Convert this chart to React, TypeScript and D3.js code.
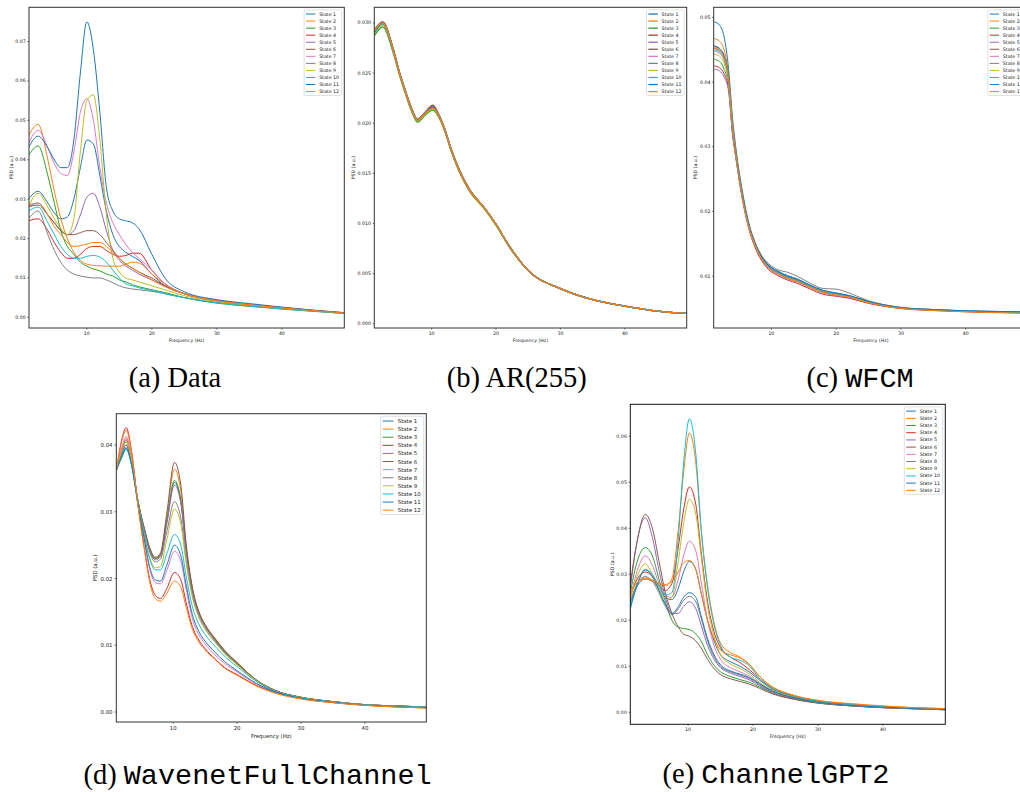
import React from "react";
import * as d3 from "d3";

// ---------- shared labels ----------
const STATES = ["State 1","State 2","State 3","State 4","State 5","State 6","State 7","State 8","State 9","State 10","State 11","State 12"];
const COLORS = ["#1f77b4","#ff7f0e","#2ca02c","#d62728","#9467bd","#8c564b","#e377c2","#7f7f7f","#bcbd22","#17becf","#1f77b4","#ff7f0e"];
const X_TICKS = [10, 20, 30, 40];
const X_DOMAIN = [1.1, 49.6];
const UNIT = 1e-3; // PSD values below are in units of 1e-3 (a.u.)

// ---------- (a) Data ----------
const FREQ_A = [1, 2.5, 4, 5, 6, 7, 8, 9, 10, 11, 12, 13, 14, 15, 16, 17, 18, 20, 22, 25, 30, 35, 40, 45, 49.6];
const PSD_A = [
  [30, 32, 29, 26.5, 25, 25.5, 30, 38, 45, 44, 36, 27, 21, 18, 16.5, 15.5, 14.5, 11, 8, 6, 4.3, 3.3, 2.5, 1.7, 1.1],
  [46, 49, 40, 32, 25, 20, 16.5, 14.5, 13.5, 13.2, 13.1, 13, 13, 13, 13.5, 14, 13.8, 11, 8.5, 6, 4.3, 3.3, 2.5, 1.8, 1.2],
  [41, 43.5, 36, 29, 22, 18, 16, 14, 13, 12.3, 11.8, 11, 10.5, 9.5, 9, 8.3, 7.8, 7, 6.3, 5, 3.6, 2.8, 2.1, 1.5, 1.0],
  [24.5, 25, 22, 19, 16.5, 15, 15, 16, 17.5, 18, 18, 17, 16, 15.5, 15.7, 16.3, 16.3, 12, 8.5, 6, 4.3, 3.2, 2.4, 1.7, 1.1],
  [28, 29, 26, 24, 22, 21, 22, 26, 30.5, 31.5, 28, 22, 17, 14.5, 13, 12, 11, 9.5, 8, 6, 4.2, 3.2, 2.4, 1.7, 1.1],
  [28, 28.5, 26, 24, 22, 21, 21, 21.5, 22, 22, 21, 19, 17, 15, 13.5, 12.5, 11.5, 10, 8, 6, 4.2, 3.2, 2.4, 1.7, 1.1],
  [44, 47.5, 43, 39, 36.5, 36, 42, 52, 55.5, 50, 38, 29, 24, 21, 18.5, 16.5, 15, 12, 8.5, 6, 4.2, 3.3, 2.5, 1.7, 1.1],
  [25, 27, 21, 17, 14, 12, 11, 10.5, 10.2, 10, 10, 9.5, 8.8, 8, 7.5, 7.2, 7, 6.6, 6, 5, 3.8, 2.9, 2.2, 1.6, 1.0],
  [28, 31.5, 28, 25, 22.5, 21, 25, 42, 55, 56.5, 45, 26, 15, 11.5, 10, 9.5, 9, 8, 7, 5.5, 4, 3, 2.3, 1.6, 1.0],
  [27, 28, 24, 21, 18, 16, 15, 15, 15.5, 15.7, 15.3, 14, 12, 10, 8.5, 8, 7.5, 6.8, 6, 5, 3.7, 2.9, 2.2, 1.6, 1.0],
  [43, 46, 43, 40, 38, 38, 45, 62, 75, 68, 52, 33, 27, 25, 24.5, 24, 22.5, 16, 10, 6.5, 4.5, 3.5, 2.6, 1.8, 1.2],
  [28.5, 29, 26, 23, 21, 19, 18, 18.2, 18.6, 19, 19, 18, 16.5, 15, 13.5, 12.5, 11.5, 9.5, 7.8, 6, 4.2, 3.2, 2.4, 1.7, 1.1],
];

// ---------- (b) AR(255) ----------
const FREQ_B = [1.1, 2.4, 4, 5, 6, 7, 7.8, 9, 10.2, 11, 12, 13, 14, 16, 18, 20, 22, 25, 30, 35, 40, 45, 49.6];
const PSD_B = [
  [29.2, 30.0, 27.4, 25.0, 23.0, 21.2, 20.3, 21.0, 21.6, 20.9, 19.4, 17.4, 15.7, 13.2, 11.7, 9.9, 7.8, 5.3, 3.5, 2.4, 1.76, 1.26, 1.03],
  [29.3, 30.0, 27.4, 25.0, 23.0, 21.2, 20.3, 21.0, 21.5, 20.9, 19.4, 17.4, 15.7, 13.2, 11.7, 9.9, 7.8, 5.3, 3.5, 2.4, 1.76, 1.26, 1.03],
  [28.7, 29.6, 27.1, 24.8, 22.8, 21.0, 20.1, 20.8, 21.3, 20.7, 19.3, 17.3, 15.6, 13.1, 11.6, 9.8, 7.7, 5.3, 3.5, 2.4, 1.76, 1.26, 1.03],
  [29.2, 30.1, 27.5, 25.1, 23.1, 21.3, 20.4, 21.1, 21.8, 21.0, 19.5, 17.5, 15.8, 13.3, 11.7, 9.9, 7.8, 5.3, 3.5, 2.4, 1.76, 1.26, 1.03],
  [29.0, 29.9, 27.3, 25.0, 23.0, 21.2, 20.3, 21.0, 21.6, 20.9, 19.4, 17.4, 15.7, 13.2, 11.7, 9.9, 7.8, 5.3, 3.5, 2.4, 1.76, 1.26, 1.03],
  [29.1, 30.0, 27.4, 25.0, 23.0, 21.2, 20.3, 21.0, 21.6, 20.9, 19.4, 17.4, 15.7, 13.2, 11.7, 9.9, 7.8, 5.3, 3.5, 2.4, 1.76, 1.26, 1.03],
  [29.0, 29.9, 27.4, 25.0, 23.0, 21.2, 20.3, 21.0, 21.5, 20.9, 19.4, 17.4, 15.7, 13.2, 11.7, 9.9, 7.8, 5.3, 3.5, 2.4, 1.76, 1.26, 1.03],
  [29.3, 30.1, 27.5, 25.1, 23.1, 21.3, 20.4, 21.1, 21.7, 21.0, 19.5, 17.5, 15.8, 13.2, 11.7, 9.9, 7.8, 5.3, 3.5, 2.4, 1.76, 1.26, 1.03],
  [28.9, 29.8, 27.3, 24.9, 22.9, 21.1, 20.2, 20.9, 21.4, 20.8, 19.3, 17.3, 15.6, 13.1, 11.6, 9.8, 7.8, 5.3, 3.5, 2.4, 1.76, 1.26, 1.03],
  [29.0, 29.9, 27.3, 25.0, 23.0, 21.2, 20.3, 21.0, 21.5, 20.9, 19.4, 17.4, 15.7, 13.2, 11.7, 9.9, 7.8, 5.3, 3.5, 2.4, 1.76, 1.26, 1.03],
  [29.1, 30.0, 27.4, 25.0, 23.0, 21.2, 20.3, 21.0, 21.6, 20.9, 19.4, 17.4, 15.7, 13.2, 11.7, 9.9, 7.8, 5.3, 3.5, 2.4, 1.76, 1.26, 1.03],
  [29.2, 30.0, 27.4, 25.0, 23.0, 21.2, 20.3, 21.0, 21.5, 20.9, 19.4, 17.4, 15.7, 13.2, 11.7, 9.9, 7.8, 5.3, 3.5, 2.4, 1.76, 1.26, 1.03],
];

// ---------- (c) WFCM ----------
const FREQ_C = [1.2, 2, 2.7, 3.4, 4, 4.5, 5.5, 6.5, 7.5, 8.5, 9.6, 11, 12.5, 14, 16, 18, 20, 22, 25, 30, 35, 40, 45, 49.6];
const PSD_C = [
  [49.3, 48.8, 47.0, 42.0, 34.5, 30.0, 23.3, 18.3, 15.2, 13.1, 11.7, 10.8, 10.1, 9.6, 8.6, 7.8, 7.4, 7.0, 6.1, 5.15, 4.85, 4.65, 4.55, 4.45],
  [46.7, 46.3, 45.0, 41.0, 33.5, 29.3, 22.6, 17.9, 14.9, 12.9, 11.5, 10.5, 9.8, 9.3, 8.4, 7.6, 7.2, 6.9, 6.0, 5.1, 4.8, 4.55, 4.4, 4.3],
  [43.5, 43.2, 42.0, 39.5, 32.5, 28.8, 22.3, 17.7, 14.7, 12.7, 11.3, 10.4, 9.7, 9.2, 8.3, 7.5, 7.1, 6.8, 5.9, 5.05, 4.75, 4.55, 4.45, 4.4],
  [42.5, 42.2, 41.3, 39.0, 32.0, 28.4, 22.0, 17.4, 14.4, 12.4, 11.0, 10.1, 9.4, 8.9, 8.0, 7.2, 6.9, 6.6, 5.8, 5.0, 4.7, 4.5, 4.4, 4.35],
  [42.0, 41.7, 40.8, 38.5, 32.0, 28.5, 22.2, 17.6, 14.6, 12.6, 11.2, 10.3, 9.6, 9.1, 8.2, 7.4, 7.0, 6.7, 5.9, 5.05, 4.75, 4.55, 4.45, 4.4],
  [45.5, 45.1, 44.0, 40.5, 33.0, 29.0, 22.5, 17.8, 14.8, 12.8, 11.4, 10.5, 9.8, 9.3, 8.4, 7.6, 7.2, 6.9, 6.0, 5.1, 4.8, 4.6, 4.5, 4.4],
  [44.8, 44.4, 43.4, 40.0, 33.0, 28.9, 22.4, 17.7, 14.7, 12.7, 11.3, 10.4, 9.7, 9.2, 8.3, 7.5, 7.1, 6.8, 5.95, 5.1, 4.8, 4.6, 4.5, 4.4],
  [45.2, 44.8, 43.7, 40.2, 33.0, 29.0, 22.6, 18.0, 15.1, 13.2, 11.9, 11.0, 10.6, 10.0, 8.9, 8.1, 8.0, 7.4, 6.2, 5.2, 4.85, 4.6, 4.5, 4.4],
  [44.3, 44.0, 42.9, 39.8, 32.8, 28.9, 22.4, 17.7, 14.7, 12.7, 11.3, 10.4, 9.7, 9.2, 8.3, 7.5, 7.1, 6.8, 5.95, 5.1, 4.8, 4.6, 4.5, 4.4],
  [45.0, 44.6, 43.6, 40.3, 33.2, 29.1, 22.6, 17.9, 14.9, 12.9, 11.5, 10.6, 9.9, 9.4, 8.5, 7.7, 7.3, 7.0, 6.05, 5.1, 4.8, 4.6, 4.5, 4.4],
  [45.6, 45.2, 44.1, 40.8, 33.5, 29.3, 22.8, 18.1, 15.0, 13.0, 11.6, 10.7, 10.0, 9.5, 8.6, 7.8, 7.4, 7.0, 6.1, 5.15, 4.85, 4.65, 4.55, 4.5],
  [45.3, 44.9, 43.8, 40.5, 33.3, 29.1, 22.5, 17.8, 14.8, 12.7, 11.3, 10.4, 9.7, 9.2, 8.3, 7.5, 7.1, 6.8, 5.9, 5.05, 4.7, 4.5, 4.35, 4.25],
];

// ---------- (d) WavenetFullChannel ----------
const FREQ_D = [1.14, 2, 2.65, 3.5, 4.5, 5.5, 6.3, 7.2, 8, 9, 10.2, 11.2, 12, 13, 14, 15, 16.5, 18, 20, 23, 26, 30, 35, 40, 45, 49.6];
const PSD_D = [
  [36.3, 38.3, 39.5, 37.0, 31.5, 27.3, 24.5, 23.0, 23.5, 28.5, 34.4, 31.5, 24.5, 18.3, 14.9, 12.9, 10.9, 9.1, 7.3, 4.8, 3.2, 2.2, 1.55, 1.1, 0.9, 0.75],
  [36.3, 39.5, 41.0, 37.8, 31.6, 27.3, 24.5, 23.0, 23.6, 29.2, 36.4, 33.0, 25.0, 18.5, 15.0, 13.0, 11.0, 9.2, 7.4, 4.8, 3.2, 2.2, 1.55, 1.1, 0.9, 0.75],
  [36.3, 39.2, 40.5, 37.6, 31.5, 27.3, 24.5, 23.0, 23.5, 28.6, 34.7, 31.7, 24.6, 18.3, 14.9, 12.9, 10.9, 9.1, 7.3, 4.8, 3.2, 2.2, 1.55, 1.1, 0.9, 0.75],
  [36.3, 41.0, 42.6, 39.0, 31.0, 24.5, 20.0, 17.5, 17.0, 18.5, 20.9, 19.8, 16.5, 12.8, 10.8, 9.5, 8.0, 6.7, 5.6, 4.0, 2.9, 2.0, 1.4, 1.0, 0.75, 0.6],
  [36.3, 39.4, 40.8, 37.7, 31.5, 27.2, 24.3, 22.8, 23.3, 28.2, 34.0, 31.2, 24.3, 18.1, 14.8, 12.8, 10.8, 9.0, 7.2, 4.7, 3.2, 2.2, 1.55, 1.1, 0.9, 0.75],
  [36.3, 38.8, 40.0, 37.3, 31.6, 27.5, 24.7, 23.2, 23.8, 29.8, 37.4, 34.0, 25.5, 18.7, 15.1, 13.1, 11.1, 9.3, 7.4, 4.8, 3.2, 2.2, 1.55, 1.1, 0.9, 0.75],
  [36.3, 39.8, 41.3, 38.0, 31.2, 25.6, 21.5, 19.4, 19.2, 21.2, 24.1, 22.6, 18.5, 14.0, 11.6, 10.2, 8.6, 7.3, 6.0, 4.2, 3.0, 2.05, 1.45, 1.05, 0.8, 0.65],
  [36.3, 38.8, 40.0, 37.3, 31.4, 27.0, 24.0, 22.5, 22.9, 27.0, 31.5, 29.0, 23.0, 17.5, 14.4, 12.5, 10.6, 8.9, 7.1, 4.7, 3.1, 2.15, 1.5, 1.1, 0.85, 0.7],
  [36.3, 39.3, 40.6, 37.6, 31.3, 26.5, 23.2, 21.6, 21.8, 25.8, 30.4, 28.2, 22.5, 17.2, 14.2, 12.4, 10.5, 8.8, 7.1, 4.7, 3.1, 2.15, 1.5, 1.1, 0.85, 0.7],
  [36.3, 38.2, 39.3, 36.9, 31.2, 26.3, 23.0, 21.3, 21.3, 23.7, 26.6, 25.0, 20.5, 15.8, 13.2, 11.6, 9.9, 8.4, 6.8, 4.6, 3.1, 2.1, 1.5, 1.05, 0.85, 0.7],
  [36.3, 38.4, 39.6, 37.0, 31.0, 25.8, 21.8, 19.8, 19.6, 22.0, 25.0, 23.4, 19.2, 14.6, 12.1, 10.6, 9.0, 7.6, 6.2, 4.3, 3.0, 2.05, 1.45, 1.05, 0.8, 0.65],
  [36.3, 40.7, 42.2, 38.8, 30.8, 24.2, 19.6, 17.0, 16.6, 17.8, 19.6, 18.7, 15.8, 12.4, 10.5, 9.3, 7.9, 6.6, 5.5, 3.9, 2.8, 1.95, 1.4, 1.0, 0.75, 0.6],
];

// ---------- (e) ChannelGPT2 ----------
const FREQ_E = [1.12, 2, 3.4, 4.5, 5.5, 6.5, 7.5, 8.5, 9.3, 10.2, 11.2, 12, 13, 14, 15, 16.5, 18, 19.5, 21, 23, 26, 30, 35, 40, 45, 49.6];
const PSD_E = [
  [24, 27, 29, 28.5, 27, 25, 24.5, 27, 30.5, 32.8, 31, 26, 20, 15.5, 12.5, 11, 10, 8.7, 7, 5, 3.5, 2.3, 1.6, 1.15, 0.85, 0.65],
  [26, 28, 29, 28.5, 27.8, 27.5, 29, 40, 52, 60.7, 54, 40, 27.5, 19.5, 15, 13, 12, 10.3, 7.8, 5.5, 3.8, 2.5, 1.8, 1.3, 1.0, 0.8],
  [26, 32, 35.8, 34, 29, 24, 20, 18.5, 18.2, 18, 17, 15.5, 12.5, 10.2, 8.8, 7.8, 7.1, 6.5, 5.5, 4.2, 3.0, 2.0, 1.4, 1.0, 0.75, 0.55],
  [25, 28.5, 30.5, 29.5, 27.5, 26.5, 28, 36, 44, 49, 45, 35, 24, 17.5, 14, 12, 10.8, 9.2, 7.3, 5.2, 3.6, 2.4, 1.7, 1.2, 0.9, 0.7],
  [27, 36, 42.3, 38, 31, 25, 21.5, 21.5, 23, 24, 22.5, 19, 14.5, 11.5, 9.7, 8.5, 7.8, 7, 5.8, 4.3, 3.1, 2.1, 1.45, 1.0, 0.75, 0.55],
  [28, 36, 43, 40, 33, 26, 21.5, 18.5, 17, 16.5, 15.5, 14, 11.5, 9.5, 8.2, 7.3, 6.7, 6.1, 5.2, 4, 2.9, 2.0, 1.4, 1.0, 0.75, 0.55],
  [25, 30, 34, 32, 28, 25.5, 25, 29, 34, 37.2, 35, 28.5, 20, 14.5, 11.5, 9.7, 8.8, 7.8, 6.3, 4.6, 3.3, 2.2, 1.55, 1.1, 0.8, 0.6],
  [24, 27.5, 29.5, 28.5, 26, 23, 21.2, 22.5, 24.3, 25.2, 24, 20.5, 15.5, 12, 10, 8.8, 8.1, 7.3, 6, 4.5, 3.2, 2.1, 1.5, 1.05, 0.8, 0.6],
  [25, 29, 32.3, 30, 27, 24.5, 25, 33, 41, 46.3, 43, 34, 23, 16.5, 12.5, 10.5, 9.5, 8.3, 6.5, 4.8, 3.4, 2.3, 1.6, 1.15, 0.85, 0.65],
  [22.5, 27, 31, 30, 27.5, 25.5, 26, 38, 54, 63.8, 56, 40, 27, 19, 14.5, 12, 11.3, 10, 7.3, 5.2, 3.6, 2.4, 1.7, 1.2, 0.9, 0.7],
  [23, 27, 31, 29.5, 26.5, 23.5, 21.5, 23, 25, 26, 25, 21, 16, 12.5, 10.3, 9, 8.3, 7.5, 6.2, 4.6, 3.3, 2.2, 1.5, 1.1, 0.8, 0.6],
  [26.5, 28, 29.2, 28.8, 28, 27.8, 28.5, 30.5, 32.5, 33, 31, 26, 20, 16, 13.5, 12.5, 11.8, 10.3, 7.8, 5.5, 3.8, 2.6, 1.9, 1.4, 1.0, 0.8],
];

// ---------- layout ----------
type Panel = {
  freq: number[]; psd: number[][];
  left: number; top: number; right: number; bottom: number;
  fs: number; yTicks: number[]; yDigits: number; ylabelX: number;
  capX: number; capY: number; capSerif: string; capMono: string;
  lw: number; frame: string;
};

const PANELS: Panel[] = [
  { freq: FREQ_A, psd: PSD_A, left: 29, top: 7.3, right: 344.3, bottom: 328, fs: 4.7,
    yTicks: [0, 0.01, 0.02, 0.03, 0.04, 0.05, 0.06, 0.07], yDigits: 2, ylabelX: 11,
    capX: 175, capY: 387, capSerif: "(a) Data", capMono: "", lw: 1.0, frame: "#333" },
  { freq: FREQ_B, psd: PSD_B, left: 374.3, top: 7.3, right: 686.7, bottom: 328, fs: 4.7,
    yTicks: [0, 0.005, 0.01, 0.015, 0.02, 0.025, 0.03], yDigits: 3, ylabelX: 353,
    capX: 516.7, capY: 387, capSerif: "(b) AR(255)", capMono: "", lw: 1.3, frame: "#333" },
  { freq: FREQ_C, psd: PSD_C, left: 713.7, top: 7.3, right: 1028, bottom: 328, fs: 4.7,
    yTicks: [0.01, 0.02, 0.03, 0.04, 0.05], yDigits: 2, ylabelX: 695,
    capX: 860, capY: 387, capSerif: "(c) ", capMono: "WFCM", lw: 1.0, frame: "#333" },
  { freq: FREQ_D, psd: PSD_D, left: 116.3, top: 413.7, right: 426.3, bottom: 722, fs: 5.4,
    yTicks: [0, 0.01, 0.02, 0.03, 0.04], yDigits: 2, ylabelX: 95,
    capX: 257.5, capY: 784, capSerif: "(d) ", capMono: "WavenetFullChannel", lw: 1.0, frame: "#333" },
  { freq: FREQ_E, psd: PSD_E, left: 630.3, top: 404.3, right: 945.3, bottom: 724.3, fs: 4.8,
    yTicks: [0, 0.01, 0.02, 0.03, 0.04, 0.05, 0.06], yDigits: 2, ylabelX: 612,
    capX: 776, capY: 783, capSerif: "(e) ", capMono: "ChannelGPT2", lw: 1.0, frame: "#111" },
];

const SANS = "DejaVu Sans, sans-serif";
const SERIF = "Liberation Serif, Times New Roman, serif";
const MONO = "Liberation Mono, Courier New, monospace";

function PanelView({ p, idx }: { p: Panel; idx: number }) {
  const x = d3.scaleLinear().domain(X_DOMAIN).range([p.left, p.right]);
  const all = p.psd.flat().map((v) => v * UNIT);
  const [mn, mx] = d3.extent(all) as [number, number];
  const pad = (mx - mn) * 0.05;
  const y = d3.scaleLinear().domain([mn - pad, mx + pad]).range([p.bottom, p.top]);
  const line = d3.line<[number, number]>()
    .x((d) => x(d[0]))
    .y((d) => y(d[1] * UNIT))
    .curve(d3.curveMonotoneX);
  const fs = p.fs;
  const tick = 0.35 * fs;
  const clipId = `clip${idx}`;
  const legW = 8.0 * fs;
  const legH = 18.2 * fs;
  const legX = p.right - 2.6 - legW;
  const legY = p.top + 2.6;
  return (
    <g>
      <defs>
        <clipPath id={clipId}>
          <rect x={p.left} y={p.top} width={p.right - p.left} height={p.bottom - p.top} />
        </clipPath>
      </defs>
      <rect x={p.left} y={p.top} width={p.right - p.left} height={p.bottom - p.top} fill="#fff" />
      <g clipPath={`url(#${clipId})`}>
        {p.psd.map((series, i) => (
          <path key={i} d={line(series.map((v, j) => [p.freq[j], v] as [number, number])) || ""}
            fill="none" stroke={COLORS[i]} strokeWidth={p.lw} />
        ))}
      </g>
      <rect x={p.left} y={p.top} width={p.right - p.left} height={p.bottom - p.top}
        fill="none" stroke={p.frame} strokeWidth={1} />
      {p.yTicks.map((t) => (
        <g key={"y" + t}>
          <line x1={p.left - tick} x2={p.left} y1={y(t)} y2={y(t)} stroke="#222" strokeWidth={0.6} />
          <text x={p.left - 2 * tick} y={y(t)} fontSize={fs} fontFamily={SANS} fill="#222"
            textAnchor="end" dominantBaseline="central">{t.toFixed(p.yDigits)}</text>
        </g>
      ))}
      {X_TICKS.map((t) => (
        <g key={"x" + t}>
          <line x1={x(t)} x2={x(t)} y1={p.bottom} y2={p.bottom + tick} stroke="#222" strokeWidth={0.6} />
          <text x={x(t)} y={p.bottom + 1.45 * fs} fontSize={fs} fontFamily={SANS} fill="#222"
            textAnchor="middle">{t}</text>
        </g>
      ))}
      <text x={(p.left + p.right) / 2} y={p.bottom + 2.9 * fs} fontSize={fs} fontFamily={SANS}
        fill="#222" textAnchor="middle">Frequency (Hz)</text>
      <text transform={`translate(${p.ylabelX},${(p.top + p.bottom) / 2}) rotate(-90)`}
        fontSize={fs} fontFamily={SANS} fill="#222" textAnchor="middle" dominantBaseline="central">PSD (a.u.)</text>
      <rect x={legX} y={legY} width={legW} height={legH} rx={0.3 * fs} fill="#fff" fillOpacity={0.8}
        stroke="#ccc" strokeWidth={0.6} />
      {STATES.map((s, i) => {
        const cy = legY + 0.88 * fs + i * 1.5 * fs;
        return (
          <g key={s}>
            <line x1={legX + 0.4 * fs} x2={legX + 2.4 * fs} y1={cy} y2={cy} stroke={COLORS[i]} strokeWidth={p.lw} />
            <text x={legX + 3.2 * fs} y={cy} fontSize={fs} fontFamily={SANS} fill="#222"
              dominantBaseline="central">{s}</text>
          </g>
        );
      })}
      <text x={p.capX} y={p.capY} fontSize={28.5} textAnchor="middle" fill="#000">
        <tspan fontFamily={SERIF}>{p.capSerif}</tspan>
        {p.capMono ? <tspan fontFamily={MONO}>{p.capMono}</tspan> : null}
      </text>
    </g>
  );
}

export default function App() {
  return (
    <svg width={1020} height={792} viewBox="0 0 1020 792"
      style={{ position: "absolute", left: 0, top: 0, background: "#fff" }}>
      <rect x={0} y={0} width={1020} height={792} fill="#fff" />
      {PANELS.map((p, i) => <PanelView key={i} p={p} idx={i} />)}
    </svg>
  );
}
